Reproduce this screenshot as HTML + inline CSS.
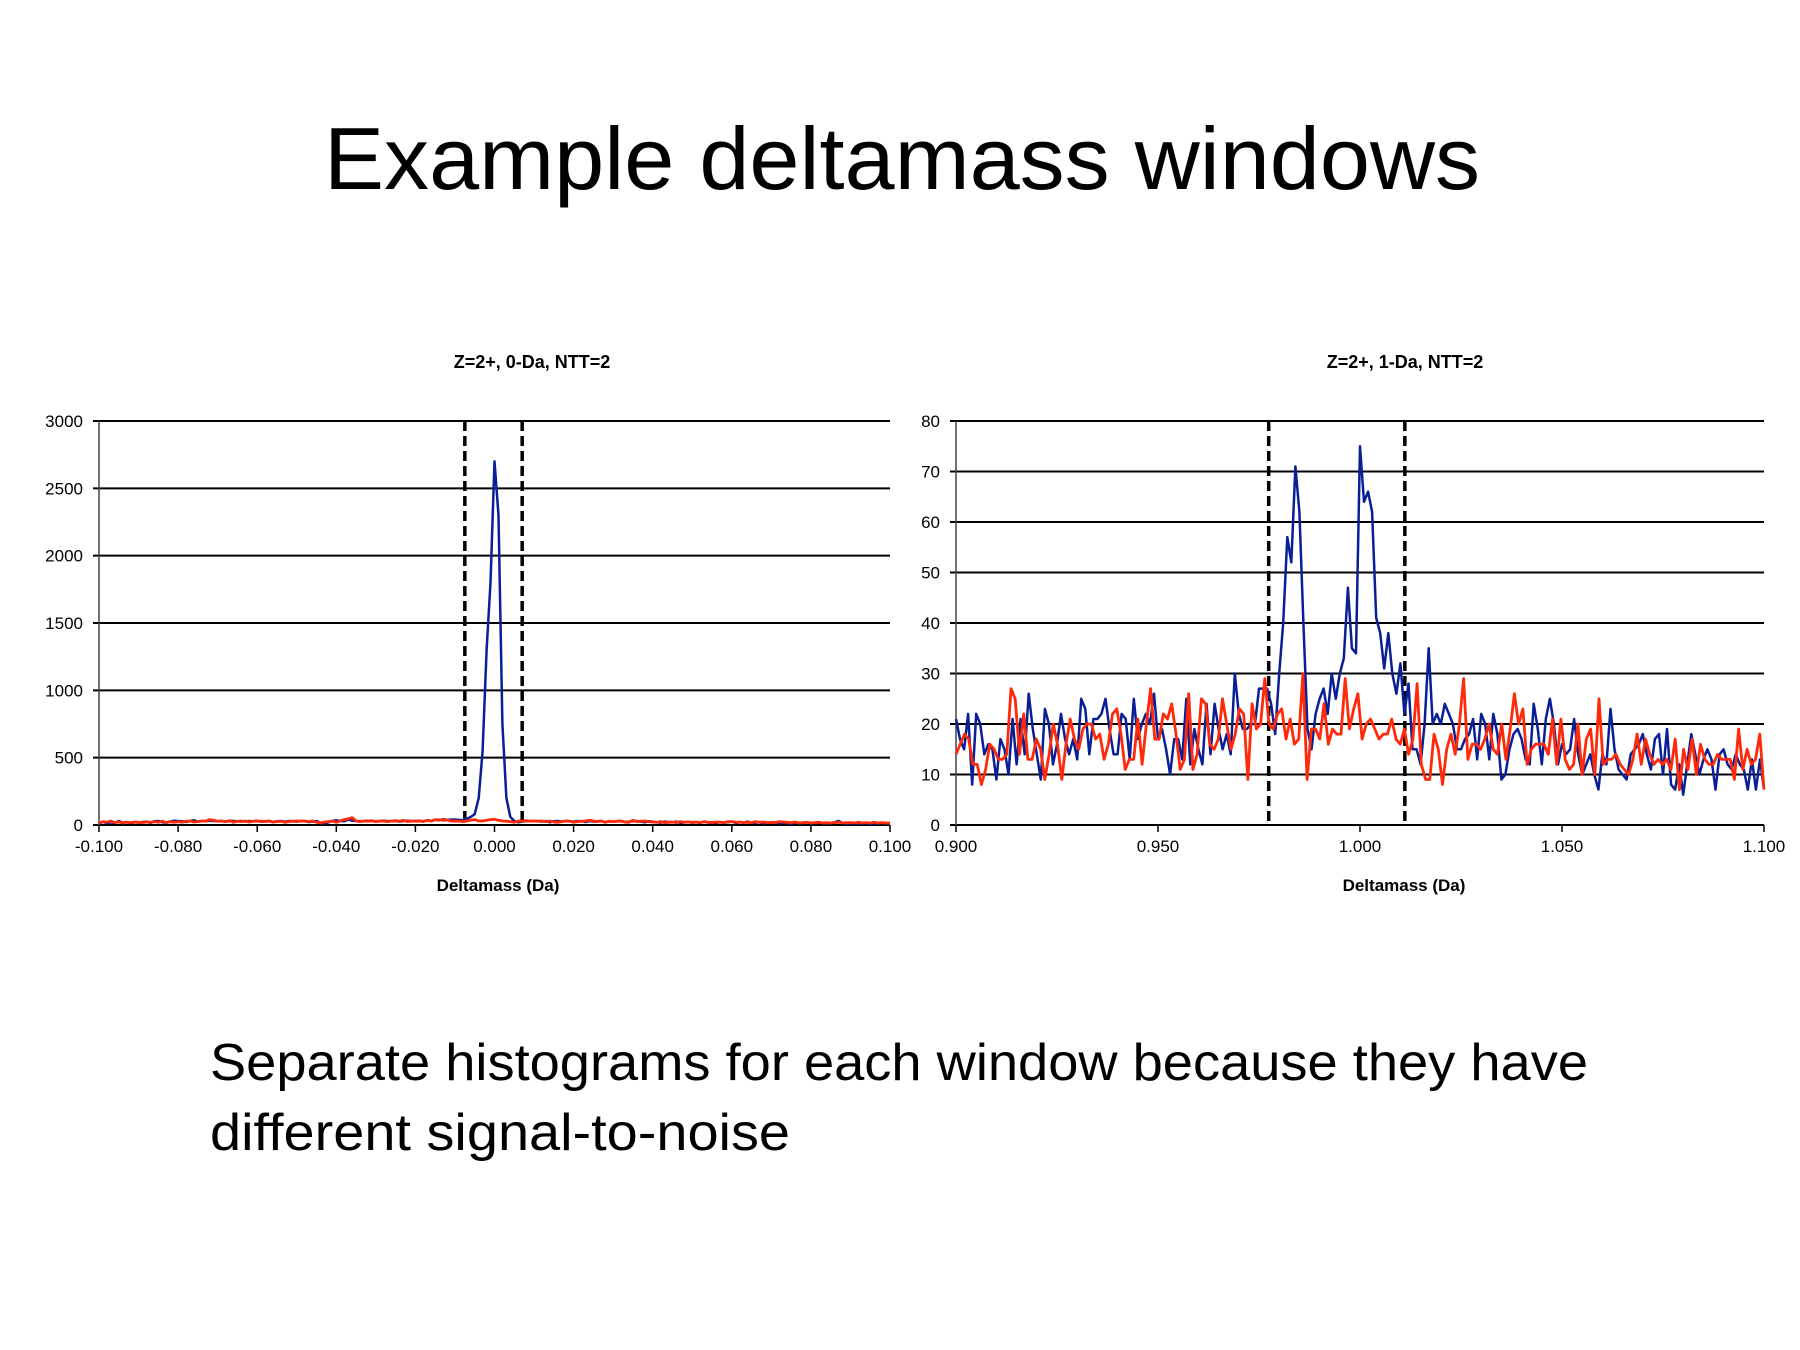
<!DOCTYPE html>
<html><head><meta charset="utf-8"><style>
html,body{margin:0;padding:0;background:#fff;}
svg{display:block;}
text{font-family:"Liberation Sans",sans-serif;}
</style></head><body>
<svg id="slide" width="1800" height="1350" viewBox="0 0 1800 1350" xmlns="http://www.w3.org/2000/svg">
<rect width="1800" height="1350" fill="#fff"/>
<text x="902" y="189" text-anchor="middle" font-size="88" textLength="1156" lengthAdjust="spacingAndGlyphs">Example deltamass windows</text>
<g id="chartL"></g>
<g id="chartR"></g>
<text x="210" y="1080" font-size="52" textLength="1378" lengthAdjust="spacingAndGlyphs">Separate histograms for each window because they have</text>
<text x="210" y="1150" font-size="52" textLength="580" lengthAdjust="spacingAndGlyphs">different signal-to-noise</text>
</svg>
<script>
// Left chart data (0-Da window), step 0.001 from -0.100 to 0.100
const leftBlue = [10,25,12,20,15,30,18,22,14,20, 18,22,25,15,28,30,20,18,25,32, 30,28,22,30,35,25,30,28,32,30, 28,30,25,32,30,28,30,26,30,28, 30,25,28,30,22,28,30,25,30,28, 25,30,28,22,25,30,18,10,20,30, 35,30,28,40,32,30,28,30,32,30, 28,30,32,30,28,30,25,30,32,30, 30,32,28,35,30,40,35,42,38,40, 40,38,35,45,60,80,200,550,1300,1800, 2700,2300,750,200,60,30,20,25,30,28, 30,28,25,30,20,28,30,25,30,28, 25,30,28,22,30,25,28,30,20,28, 25,28,30,22,25,28,30,25,20,28, 25,20,18,25,22,20,25,15,20,22, 18,20,15,25,18,20,15,22,18,20, 25,15,20,18,25,15,18,20,12,18, 15,20,12,18,15,10,18,15,12,20, 15,12,18,15,10,15,20,30,15,10, 12,15,10,12,15,8,12,10,15,12, 10];
const leftRed = [15,25,20,30,18,22,15,20,18,22, 20,18,22,20,25,20,28,18,25,20, 25,20,28,30,22,25,30,28,40,35, 28,30,25,32,20,28,25,30,22,28, 30,28,25,30,22,25,28,20,25,28, 30,28,30,25,30,20,15,22,25,30, 20,30,40,45,55,30,25,30,28,32, 25,30,28,25,30,32,28,35,25,30, 28,30,25,35,30,38,40,35,38,30, 28,30,25,30,35,40,30,30,35,40, 42,35,30,28,25,20,30,28,32,30, 30,28,30,25,30,22,20,25,30,28, 20,25,28,30,35,30,25,30,20,28, 25,28,30,22,20,35,25,28,30,25, 22,20,25,18,20,22,18,25,20,22, 20,22,18,25,20,18,22,20,18,25, 25,20,22,18,20,18,25,20,22,18, 20,18,25,22,20,18,22,15,18,20, 15,18,20,15,18,15,18,20,15,18, 18,15,20,15,18,15,20,15,18,15, 15];
const leftYTicks = [0,500,1000,1500,2000,2500,3000];
const leftXTicks = [-0.1,-0.08,-0.06,-0.04,-0.02,0,0.02,0.04,0.06,0.08,0.1];
const leftWindow = [-0.0075,0.0070];

// Right chart data (1-Da window), step 0.001 from 0.900 to 1.100
const rightBlue = [21,17,15,22,8,22,20,14,16,15, 9,17,15,10,21,12,21,14,26,19, 14,9,23,20,12,16,22,17,14,17, 13,25,23,14,21,21,22,25,19,14, 14,22,21,13,25,17,20,22,20,26, 17,19,15,10,17,17,13,25,12,19, 15,12,24,14,24,19,15,18,14,30, 22,19,19,20,20,27,27,27,24,18, 30,40,57,52,71,62,40,19,15,22, 25,27,22,30,25,30,33,47,35,34, 75,64,66,62,41,38,31,38,30,26, 32,22,28,15,15,12,20,35,20,22, 20,24,22,20,15,15,17,18,21,13, 22,20,13,22,18,9,10,15,18,19, 17,13,12,24,19,12,21,25,20,12, 16,14,15,21,14,10,12,14,10,7, 14,12,23,15,11,10,9,14,15,16, 18,14,11,17,18,10,19,8,7,12, 6,12,18,14,10,13,15,13,7,14, 15,12,11,14,12,11,7,13,7,13, 7];
const rightRed = [14,16,18,17,12,12,8,11,16,15, 13,13,14,27,25,14,22,13,13,17, 15,9,14,20,16,9,16,21,17,15, 19,20,20,17,18,13,16,22,23,18, 11,13,13,21,12,20,27,17,17,22, 21,24,18,11,13,26,11,14,25,24, 16,15,17,25,20,15,18,23,22,9, 24,19,20,29,20,19,22,23,17,21, 16,17,30,9,19,19,17,24,16,19, 18,18,29,19,23,26,17,20,21,19, 17,18,18,21,17,16,19,14,17,28, 12,9,9,18,15,8,15,18,14,20, 29,13,16,16,15,17,20,15,14,20, 13,19,26,20,23,12,15,16,16,16, 14,21,12,21,13,11,12,20,10,17, 19,10,25,12,13,13,14,12,11,10, 13,18,12,17,14,12,13,12,13,11, 17,7,15,11,17,10,16,13,12,12, 14,13,13,13,9,19,11,15,12,13, 18,7];
const rightYTicks = [0,10,20,30,40,50,60,70,80];
const rightXTicks = [0.9,0.95,1.0,1.05,1.1];
const rightWindow = [0.9774,1.0111];

const NS = 'http://www.w3.org/2000/svg';
function mk(parent, tag, attrs){
  const e = document.createElementNS(NS, tag);
  for (const k in attrs) e.setAttribute(k, attrs[k]);
  parent.appendChild(e);
  return e;
}
function drawChart(g, cfg){
  const L=cfg.left,R=cfg.right,T=421,B=825;
  const sx = v => L + (v-cfg.xmin)/(cfg.xmax-cfg.xmin)*(R-L);
  const sy = v => B - (v-cfg.ymin)/(cfg.ymax-cfg.ymin)*(B-T);
  const title = mk(g,'text',{x:cfg.titleX,y:368,'text-anchor':'middle','font-size':18,'font-weight':'bold'});
  title.textContent = cfg.title;
  
  
  cfg.yTicks.forEach(v=>{
    const ln = mk(g,'line',{x1:L-6,x2:R,y1:sy(v),y2:sy(v),stroke:'#000','stroke-width':2});
    
    
    const t = mk(g,'text',{x:cfg.ylabX,y:sy(v)+6,'text-anchor':'end','font-size':17});
    t.textContent = v;
    
    
  });
  const ax = mk(g,'line',{x1:L,x2:L,y1:T,y2:B,stroke:'#444','stroke-width':1.5});
  
  
  cfg.xTicks.forEach(v=>{
    const tk = mk(g,'line',{x1:sx(v),x2:sx(v),y1:B,y2:B+7,stroke:'#000','stroke-width':1.5});
    
    
    const t = mk(g,'text',{x:sx(v),y:B+27,'text-anchor':'middle','font-size':17});
    t.textContent = v.toFixed(3);
    
    
  });
  cfg.window.forEach(v=>{
    const d = mk(g,'line',{x1:sx(v),x2:sx(v),y1:T,y2:B,stroke:'#000','stroke-width':3.5,'stroke-dasharray':'10,5'});
    
    
  });
  [[cfg.blue,'#0a1f96',2.5,'series-target'],[cfg.red,'#ff2a0a',2.8,'series-decoy']].forEach(s=>{
    const arr=s[0], n=arr.length;
    const pts = arr.map((v,i)=>sx(cfg.xmin+i*(cfg.xmax-cfg.xmin)/(n-1)).toFixed(1)+','+sy(v).toFixed(1)).join(' ');
    const p = mk(g,'polyline',{points:pts,fill:'none',stroke:s[1],'stroke-width':s[2],'stroke-linejoin':'round'});
    
    
  });
  const xt = mk(g,'text',{x:cfg.axisTitleX,y:891,'text-anchor':'middle','font-size':17,'font-weight':'bold'});
  xt.textContent = 'Deltamass (Da)';
  
  
}
drawChart(document.getElementById('chartL'),{left:99,right:890,xmin:-0.1,xmax:0.1,ymin:0,ymax:3000,ylabX:83,titleX:532,axisTitleX:498,
  title:'Z=2+, 0-Da, NTT=2',yTicks:leftYTicks,xTicks:leftXTicks,window:leftWindow,blue:leftBlue,red:leftRed});
drawChart(document.getElementById('chartR'),{left:956,right:1764,xmin:0.9,xmax:1.1,ymin:0,ymax:80,ylabX:940,titleX:1405,axisTitleX:1404,
  title:'Z=2+, 1-Da, NTT=2',yTicks:rightYTicks,xTicks:rightXTicks,window:rightWindow,blue:rightBlue,red:rightRed});
</script>
</body></html>
